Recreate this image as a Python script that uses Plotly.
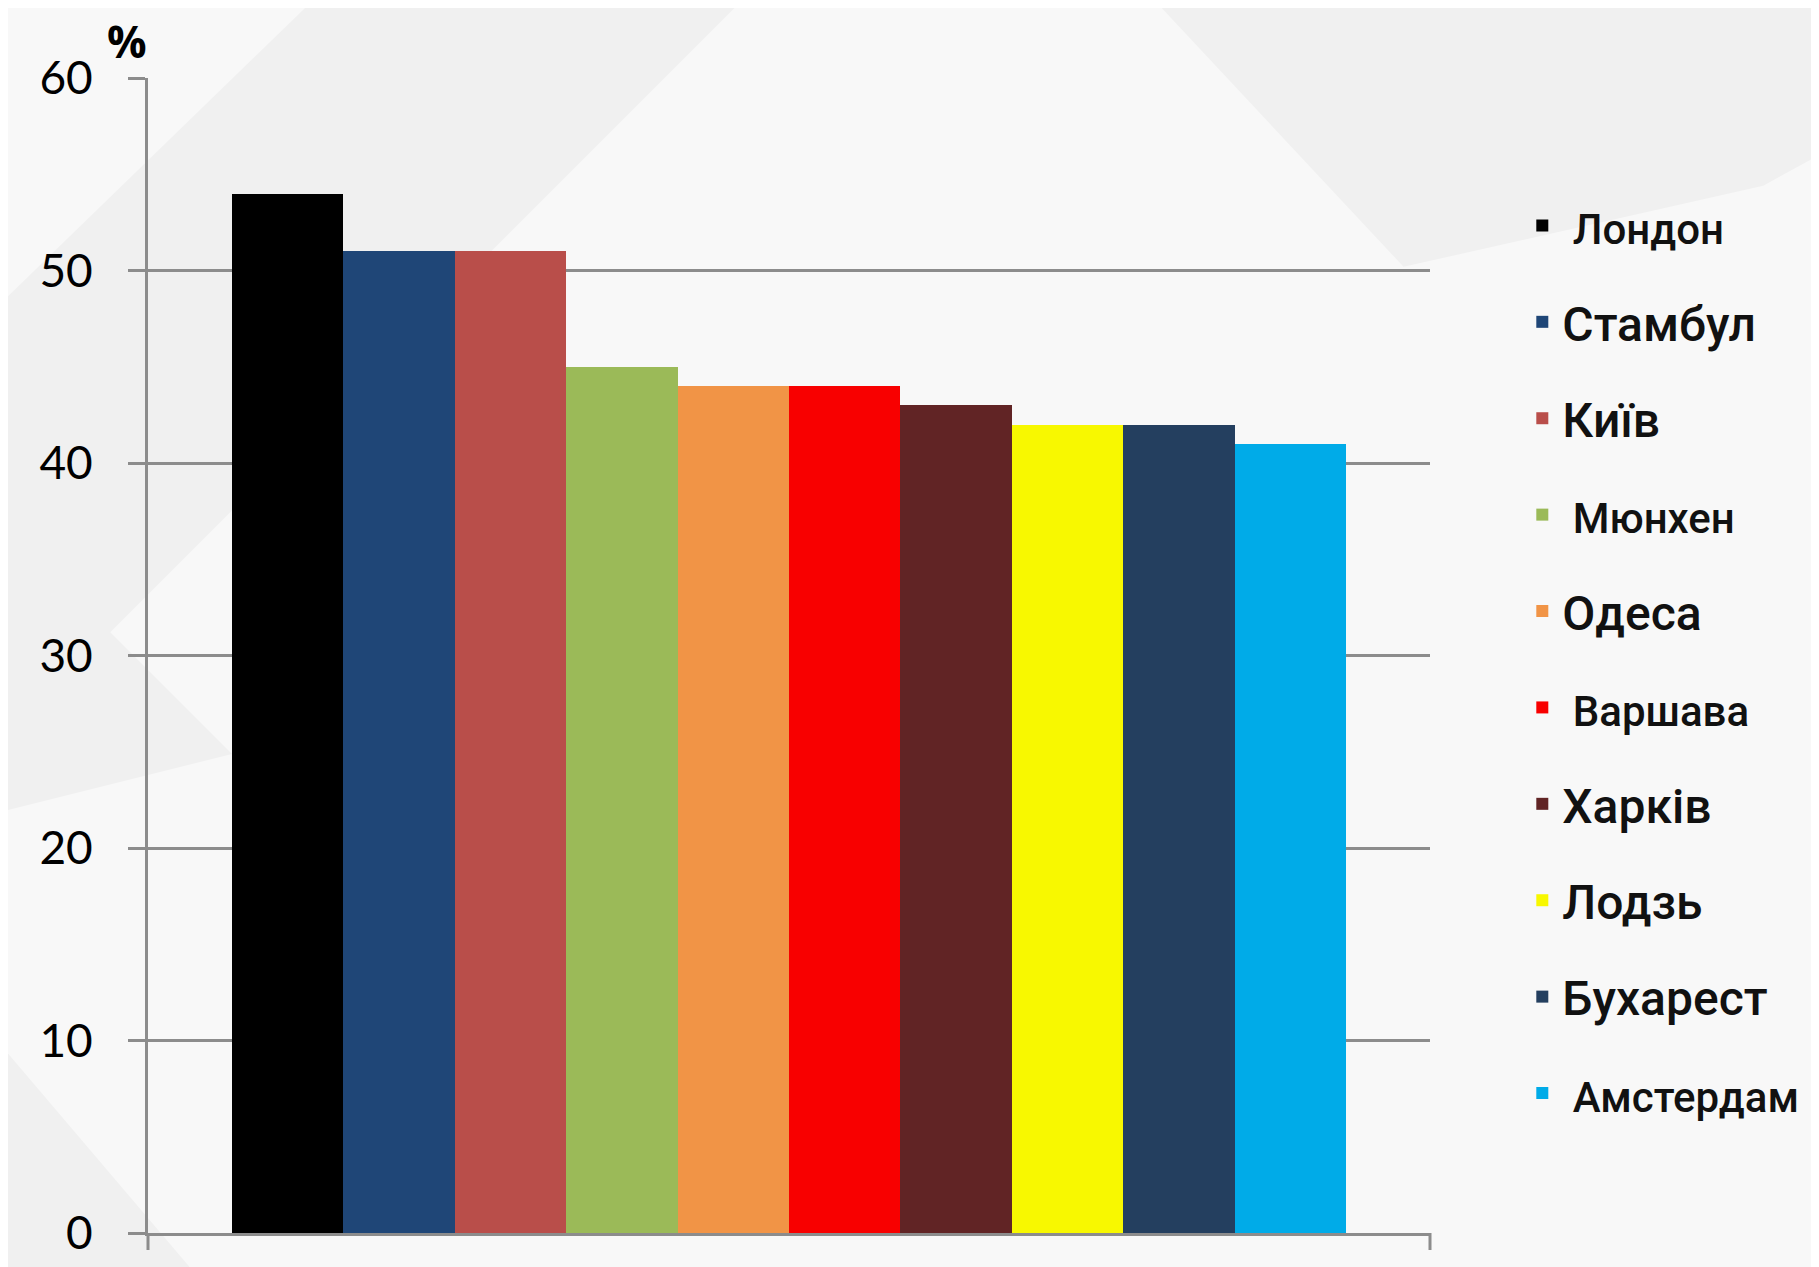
import plotly.graph_objects as go

cities = ["Лондон", "Стамбул", "Київ", "Мюнхен", "Одеса", "Варшава",
          "Харків", "Лодзь", "Бухарест", "Амстердам"]
values = [54, 51, 51, 45, 44, 44, 43, 42, 42, 41]
colors = ["#000000", "#1f4677", "#b94e4a", "#9bba58", "#f19446", "#f80000",
          "#612425", "#f8f800", "#243f5f", "#00abe8"]
small_label = [True, False, False, True, False, True, False, False, False, True]
y_ticks = [0, 10, 20, 30, 40, 50, 60]

W, H = 1819, 1267
L, R, T, B = 140, 397, 70, 42
PW, PH = W - L - R, H - T - B
GRID = "#8c8c8c"


def px(xp_, yp_):
    """figure pixel -> paper coords (for decorative background only)"""
    return (xp_ - L) / PW, (T + PH - yp_) / PH


def poly(points):
    pts = [px(a * 1.16 - 8, b * 1.16 - 8) for a, b in points]
    return "M " + " L ".join(f"{x:.4f} {y:.4f}" for x, y in pts) + " Z"


fig = go.Figure()
for c, v, col, sm in zip(cities, values, colors, small_label):
    label = f"<span style='font-size:42px'>&nbsp;{c}</span>" if sm else c
    fig.add_trace(go.Bar(
        x=[c], y=[v], name=label, marker=dict(color=col, line=dict(width=0)),
        width=1, legendgroup=c, hovertemplate=c + ": %{y}%<extra></extra>",
    ))

# subtle decorative background bands
bands = [
    [(270, 0), (640, 0), (0, 640), (0, 262)],
    [(0, 900), (0, 1100), (170, 1100)],
    [(995, 0), (1575, 0), (1575, 130), (1520, 160), (1210, 230)],
    [(0, 450), (200, 650), (0, 700)],
]
shapes = []
for b in bands:
    shapes.append(dict(type="path", path=poly(b), xref="paper", yref="paper",
                       fillcolor="#f0f0f0", line=dict(width=0), layer="below"))
# axis end ticks below zero line
tick_len = 17 / PH
for xp in (0, 1):
    shapes.append(dict(type="line", xref="paper", yref="paper", x0=xp, x1=xp,
                       y0=0, y1=-tick_len, line=dict(color=GRID, width=3)))

fig.update_layout(
    width=W, height=H,
    margin=dict(l=L, r=R, t=T, b=B),
    paper_bgcolor="#f8f8f8",
    plot_bgcolor="rgba(0,0,0,0)",
    barmode="overlay",
    bargap=0,
    showlegend=True,
    shapes=shapes,
    legend=dict(
        x=1.072, xanchor="left", y=0.905, yanchor="top",
        font=dict(family="Roboto", size=48, color="#111111", weight=500),
        tracegroupgap=31, itemwidth=30, bgcolor="rgba(0,0,0,0)",
    ),
    annotations=[dict(
        text="<b>%</b>", xref="paper", yref="paper", x=-0.033, y=1.0,
        xanchor="left", yanchor="bottom", yshift=6, showarrow=False,
        borderpad=0, font=dict(family="Open Sans", size=44, color="#000000"),
    )],
)
fig.update_xaxes(
    type="category", categoryorder="array", categoryarray=cities,
    range=[-1.25, len(cities) + 0.25], showticklabels=False, showgrid=False,
    showline=True, linecolor=GRID, linewidth=3, ticks="", zeroline=False,
)
fig.update_yaxes(
    range=[0, 60], tickvals=y_ticks, ticktext=[str(t) for t in y_ticks],
    showgrid=True, gridcolor=GRID, gridwidth=3,
    showline=True, linecolor=GRID, linewidth=3,
    ticks="outside", ticklen=17, tickcolor=GRID, tickwidth=3,
    ticklabelstandoff=26, zeroline=False,
    tickfont=dict(family="Lato", size=46, color="#000000"),
)
fig.write_html("out.html")
